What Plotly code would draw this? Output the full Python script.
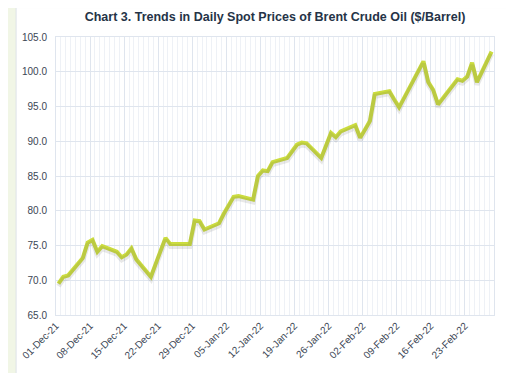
import plotly.graph_objects as go

dates = [
    "2021-12-01", "2021-12-02", "2021-12-03", "2021-12-06", "2021-12-07", "2021-12-08",
    "2021-12-09", "2021-12-10", "2021-12-13", "2021-12-14", "2021-12-15", "2021-12-16",
    "2021-12-17", "2021-12-20", "2021-12-21", "2021-12-22", "2021-12-23", "2021-12-24",
    "2021-12-27", "2021-12-28", "2021-12-29", "2021-12-30", "2021-12-31",
    "2022-01-03", "2022-01-04", "2022-01-05", "2022-01-06", "2022-01-07",
    "2022-01-10", "2022-01-11", "2022-01-12", "2022-01-13", "2022-01-14",
    "2022-01-17", "2022-01-18", "2022-01-19", "2022-01-20", "2022-01-21",
    "2022-01-24", "2022-01-25", "2022-01-26", "2022-01-27", "2022-01-28",
    "2022-01-31", "2022-02-01", "2022-02-02", "2022-02-03", "2022-02-04",
    "2022-02-07", "2022-02-08", "2022-02-09", "2022-02-10", "2022-02-11",
    "2022-02-14", "2022-02-15", "2022-02-16", "2022-02-17", "2022-02-18",
    "2022-02-21", "2022-02-22", "2022-02-23", "2022-02-24", "2022-02-25",
    "2022-02-28",
]
prices = [
    69.5, 70.5, 70.7, 73.2, 75.4, 75.8,
    74.1, 74.9, 74.1, 73.3, 73.7, 74.6,
    73.0, 70.5, 72.4, 74.3, 76.1, 75.2,
    75.2, 75.2, 78.6, 78.5, 77.3,
    78.2, 79.6, 80.8, 82.0, 82.1,
    81.6, 85.0, 85.8, 85.7, 87.0,
    87.6, 88.5, 89.5, 89.8, 89.7,
    87.6, 89.4, 91.2, 90.6, 91.4,
    92.3, 90.5, 91.7, 92.9, 96.8,
    97.2, 96.0, 94.9, 96.2, 97.5,
    101.5, 98.5, 97.4, 95.3, 96.2,
    98.9, 98.7, 99.3, 101.3, 98.5,
    102.9,
]
title_text = "Chart 3. Trends in Daily Spot Prices of Brent Crude Oil ($/Barrel)"

DAY = 86400000
LINE_COLOR = "#cbdc3e"
GRID_MAJOR = "#dfe5ee"
GRID_MINOR = "#eef1f6"
TEXT = "#3b4654"

# the page body adds an 8px offset; figure is sized to fit the 514x373 window
W, H = 506, 365
L, T, R, B = 36, 29, 20, 57
PW, PH = W - L - R, H - T - B

fig = go.Figure()
# soft shadow under the line
fig.add_trace(go.Scatter(
    x=dates, y=prices, mode="lines", yaxis="y2",
    xperiod=DAY, xperiodalignment="middle",
    line=dict(color="rgba(90,90,90,0.14)", width=5),
    hoverinfo="skip", showlegend=False,
))
fig.add_trace(go.Scatter(
    x=dates, y=prices, mode="lines",
    xperiod=DAY, xperiodalignment="middle",
    line=dict(color=LINE_COLOR, width=4),
    showlegend=False,
))

fig.update_layout(
    width=W, height=H,
    margin=dict(l=L, r=R, t=T, b=B),
    paper_bgcolor="#f1f6e6",
    plot_bgcolor="white",
    font=dict(family="Liberation Sans, Arial, sans-serif", size=10, color=TEXT),
    title=dict(
        text="<b>" + title_text + "</b>",
        x=0.5, xanchor="center", xref="paper",
        y=1 - 9 / H, yanchor="middle",
        font=dict(size=12.5, color="#253347", family="Liberation Sans, Arial, sans-serif"),
    ),
    xaxis=dict(
        type="date",
        range=["2021-12-01", "2022-03-01"],
        tick0="2021-12-01", dtick=7 * DAY,
        tickformat="%d-%b-%y", tickangle=-45,
        showgrid=True, gridcolor=GRID_MAJOR, gridwidth=1,
        minor=dict(dtick=DAY, tick0="2021-12-01", showgrid=True, gridcolor=GRID_MINOR, gridwidth=1),
        showline=True, linecolor=GRID_MAJOR, mirror=True,
        ticks="", zeroline=False,
        tickfont=dict(size=10, color=TEXT),
    ),
    yaxis=dict(
        range=[65, 105], dtick=5, tickformat=".1f",
        showgrid=True, gridcolor=GRID_MAJOR, gridwidth=1,
        showline=True, linecolor=GRID_MAJOR, mirror=True,
        ticks="", zeroline=False, ticklabelstandoff=6,
        tickfont=dict(size=10, color=TEXT),
    ),
    yaxis2=dict(
        range=[65.35, 105.35], overlaying="y", visible=False,
    ),
    shapes=[dict(
        type="rect", xref="paper", yref="paper", layer="below",
        x0=(-5 - L) / PW, x1=(501 - L) / PW,
        y0=-(B + 20) / PH, y1=(PH + T - 0) / PH + 0.002,
        fillcolor="white", line=dict(color="#dde2e8", width=1),
    )],
)

fig.write_html("out.html")
